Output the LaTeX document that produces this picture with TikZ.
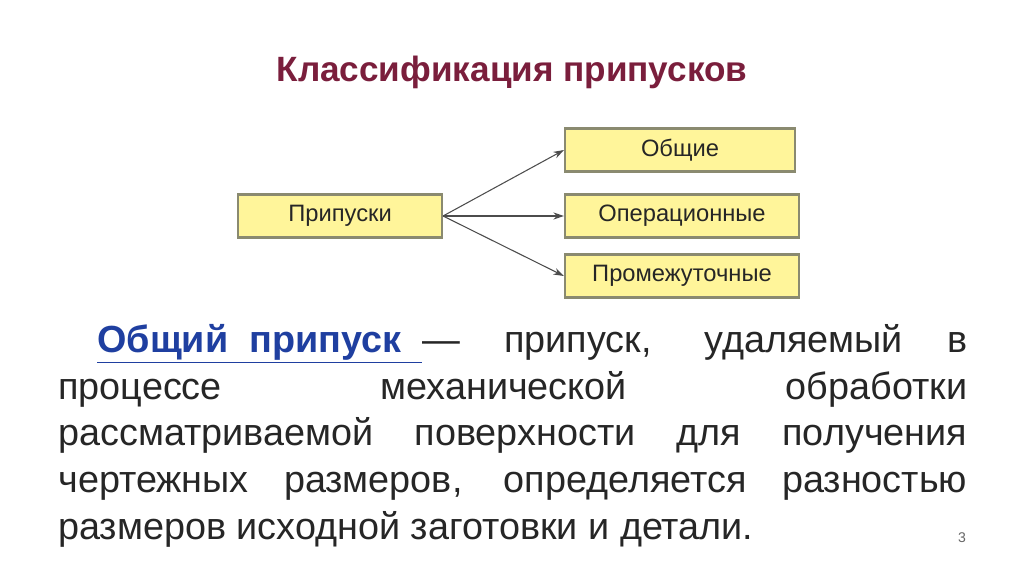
\documentclass[tikz,border=0pt]{standalone}
\usepackage{fontspec}
\setmainfont{Liberation Sans}
\usetikzlibrary{arrows.meta}
\definecolor{titlec}{HTML}{7A1E3C}
\definecolor{boxf}{HTML}{FFF59A}
\definecolor{boxd}{HTML}{8A8A70}
\definecolor{linkc}{HTML}{1F3FA0}
\tikzset{
 cls/.style={draw=boxd,line width=1.2pt,fill=boxf,minimum height=0.86cm,inner sep=0pt,font=\fontsize{13.5}{15}\selectfont,text=black!85},
 arr/.style={draw=black!70,line width=0.6pt,-{Stealth[length=6pt,width=4pt]}}
}
\begin{document}
\begin{tikzpicture}[x=0.02cm,y=-0.02cm]
\useasboundingbox (0,0) rectangle (1024,574);
\node[font=\bfseries\fontsize{20}{24}\selectfont,text=titlec] (title) at (512,72) {Классификация припусков};
\node[cls,minimum width=4.08cm] (p) at (340,216) {Припуски};
\node[cls,minimum width=4.6cm] (a) at (680,150) {Общие};
\node[cls,minimum width=4.68cm] (b) at (682,216) {Операционные};
\node[cls,minimum width=4.68cm] (c) at (682,276) {Промежуточные};
\draw[arr] (p.east) -- (a.west);
\draw[arr] (p.east) -- (b.west);
\draw[arr] (p.east) -- (c.west);
\node[anchor=north west,inner sep=0pt,text width=18.18cm,align=justify,font=\fontsize{21.5}{26.6}\selectfont,text=black!85] (txt) at (58,324) {\hspace*{0.78cm}\textcolor{linkc}{\textbf{\underline{Общий\ \ припуск\ \ }}}—~припуск, удаляемый в\linebreak
процессе механической обработки\linebreak
рассматриваемой поверхности для получения\linebreak
чертежных размеров, определяется разностью\linebreak
размеров исходной заготовки и детали.};
\node[font=\fontsize{8}{9}\selectfont,text=black!60] (num) at (962,538) {3};
\end{tikzpicture}
\end{document}
